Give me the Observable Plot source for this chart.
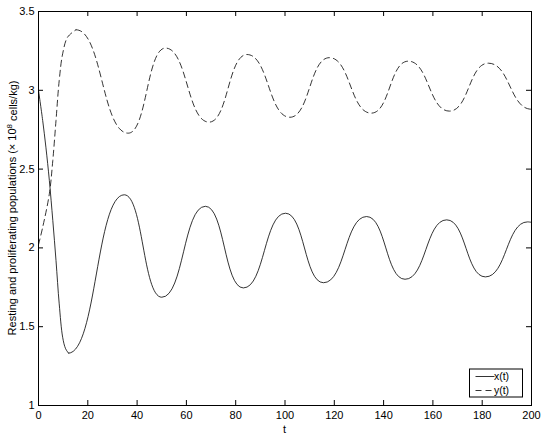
<!DOCTYPE html>
<html><head><meta charset="utf-8">
<script src="https://cdn.jsdelivr.net/npm/d3@7"></script>
<script src="https://cdn.jsdelivr.net/npm/@observablehq/plot@0.6"></script>
<style>body{margin:0;background:#fff} svg{display:block}</style>
</head><body><div id="chart"></div>
<script>
// x(t): resting population (solid) — initial transient, then successive extrema
const tX = [0,1.7,3.0,4.4,5.8,7.1,8.4,9.8,11.0,12.2,34.8,50.0,67.7,83.1,100.2,115.6,133.1,148.7,165.6,181.3,198.4,200];
const xVals = [3.0,2.808,2.639,2.428,2.174,1.92,1.645,1.433,1.36,1.332,2.337,1.687,2.264,1.746,2.220,1.779,2.199,1.801,2.178,1.816,2.165,2.163];
const xFirstExtremum = 9; // index in tX where the oscillation (extrema) begins
// y(t): proliferating population (dashed) — initial transient, then successive extrema
const tY = [0,1.7,4.4,5.8,7.1,8.4,9.8,11.8,15.2,36.4,51.5,69.2,84.6,102.0,118.0,135.0,150.0,166.7,182.5,200];
const yVals = [2.02,2.131,2.343,2.555,2.808,3.062,3.232,3.337,3.384,2.728,3.268,2.798,3.227,2.829,3.207,2.855,3.185,2.868,3.172,2.88];
const yFirstExtremum = 8;
const xTicks = [0,20,40,60,80,100,120,140,160,180,200];
const yTicks = [1,1.5,2,2.5,3,3.5];
const seriesLabels = ["x(t)", "y(t)"];
const xLabel = "t";
const yLabelPre = "Resting and proliferating populations (\u00d7 10";
const yLabelSup = "8";
const yLabelPost = " cells/kg)";

const xData = tX.map((t, i) => ({t, v: xVals[i]}));
const yData = tY.map((t, i) => ({t, v: yVals[i]}));

const W = 545, H = 436, mL = 38, mR = 14, mT = 11, mB = 31;
const frameW = W - mL - mR, frameH = H - mT - mB, tickLen = 5;
const font = "'Liberation Sans', Arial, Helvetica, sans-serif";
const solid = {x: "t", y: "v", stroke: "#000", strokeWidth: 0.8};
const dashed = {...solid, strokeDasharray: "6,4"};

const chart = Plot.plot({
  width: W, height: H,
  marginLeft: mL, marginRight: mR, marginTop: mT, marginBottom: mB,
  style: {fontFamily: font, fontSize: "11px", background: "#fff", color: "#000"},
  x: {domain: [0, 200]},
  y: {domain: [1, 3.5]},
  marks: [
    Plot.axisX({ticks: xTicks, tickSize: 0, tickPadding: 6, tickFormat: d => String(d), label: null}),
    Plot.axisY({ticks: yTicks, tickSize: 0, tickPadding: 4, tickFormat: d => String(d), label: null}),
    Plot.tickX(xTicks, {x: d => d, stroke: "#000", insetTop: frameH - tickLen}),
    Plot.tickX(xTicks, {x: d => d, stroke: "#000", insetBottom: frameH - tickLen}),
    Plot.tickY(yTicks, {y: d => d, stroke: "#000", insetRight: frameW - tickLen}),
    Plot.tickY(yTicks, {y: d => d, stroke: "#000", insetLeft: frameW - tickLen}),
    Plot.line(xData.slice(0, xFirstExtremum + 1), {...solid, curve: "catmull-rom"}),
    Plot.line(xData.slice(xFirstExtremum), {...solid, curve: "bump-x"}),
    Plot.line(yData.slice(0, yFirstExtremum + 1), {...dashed, curve: "catmull-rom"}),
    Plot.line(yData.slice(yFirstExtremum), {...dashed, curve: "bump-x"}),
    Plot.frame({stroke: "#000"})
  ]
});

const svg = d3.select(chart);
const xr = chart.scale("x").range, yr = chart.scale("y").range;
const cx = (xr[0] + xr[1]) / 2, cy = (yr[0] + yr[1]) / 2;

// axis titles
svg.append("text").attr("x", cx).attr("y", H - 3.5).attr("text-anchor", "middle")
  .attr("font-family", font).attr("font-size", 11).attr("fill", "#000").text(xLabel);
const yl = svg.append("text").attr("transform", `translate(15.5,${cy}) rotate(-90)`)
  .attr("text-anchor", "middle").attr("font-family", font).attr("font-size", 11).attr("fill", "#000");
yl.append("tspan").text(yLabelPre);
yl.append("tspan").attr("dy", "-0.45em").attr("font-size", 8).text(yLabelSup);
yl.append("tspan").attr("dy", "0.45em").text(yLabelPost);

// legend
const bw = 53, bh = 28;
const bx = xr[1] - 8.5 - bw, by = yr[0] - 8 - bh;
const lg = svg.append("g");
lg.append("rect").attr("x", bx).attr("y", by).attr("width", bw).attr("height", bh)
  .attr("fill", "#fff").attr("stroke", "#000").attr("stroke-width", 1);
seriesLabels.forEach((s, i) => {
  const ly = by + 7.5 + i * 14;
  lg.append("line").attr("x1", bx + 6).attr("x2", bx + 25).attr("y1", ly).attr("y2", ly)
    .attr("stroke", "#000").attr("stroke-width", 0.8).attr("stroke-dasharray", i ? "6,4" : null);
  lg.append("text").attr("x", bx + 32).attr("y", ly + 3.8).attr("font-family", font)
    .attr("font-size", 10.5).attr("fill", "#000").text(s);
});

document.getElementById("chart").appendChild(chart);
</script>
</body></html>
